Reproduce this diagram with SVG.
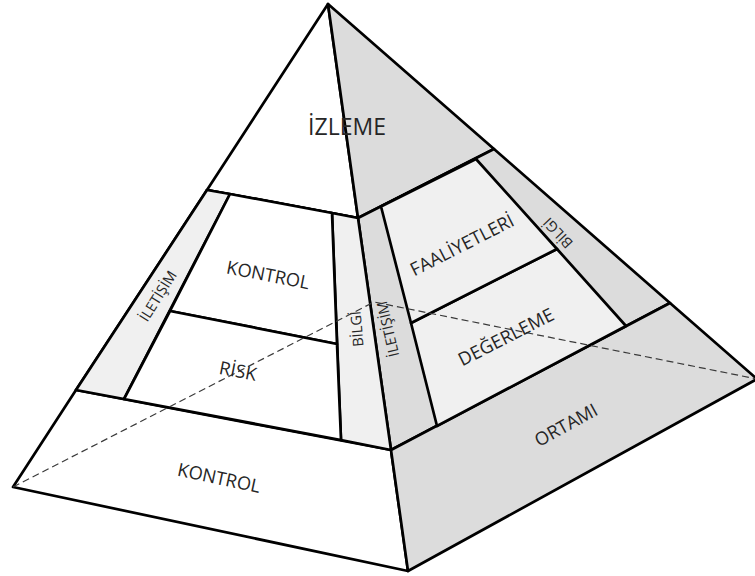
<svg xmlns="http://www.w3.org/2000/svg" width="755" height="576" viewBox="0 0 755 576">
<style>
.f{stroke:#000;stroke-width:2.7;stroke-linejoin:round}
.w{fill:#ffffff}
.l{fill:#f0f0f0}
.d{fill:#dcdcdc}
.dash{stroke:#3a3a3a;stroke-width:1.2;stroke-dasharray:7 4;fill:none}
text{font-family:"Open Sans",Lato,"Liberation Sans",sans-serif;fill:#262626;text-anchor:middle}
.big{font-size:18.3px}
.sm{font-size:14.5px}
</style>
<rect width="755" height="576" fill="#ffffff"/>
<g id="faces">
<polygon class="f w" points="328,4 207,190 358,218"/>
<polygon class="f d" points="328,4 358,218 494,149"/>
<polygon class="f w" points="207,190 358,218 391,450 76,390"/>
<polygon class="f d" points="358,218 494,149 670,303 391,450"/>
<polygon class="f w" points="76,390 391,450 408,571 13,487"/>
<polygon class="f d" points="391,450 670,303 757,379 408,571"/>
</g>
<g id="iletisim-left">
<polygon class="f l" points="207,190 230,194 124,399 76,390"/>
<text class="sm" transform="translate(158,296) rotate(-58)" dy="0.35em">İLETİŞİM</text>
</g>
<g id="bilgi-left">
<polygon class="f l" points="332,213 358,218 391,450 341,440"/>
<text class="sm" transform="translate(357,329) rotate(-95)" dy="0.35em">BİLGİ</text>
</g>
<g id="kontrol-mid">
<polygon class="f w" points="230,194 332,213 337,344 170,311"/>
<text class="big" transform="translate(268,275) rotate(11)" dy="0.35em">KONTROL</text>
</g>
<g id="risk">
<polygon class="f w" points="170,311 337,344 341,440 124,399"/>
</g>
<g id="degerleme-panel">
<polygon class="f l" points="411,323 557,249 626,326 437,426"/>
</g>
<g id="faaliyetleri">
<polygon class="f l" points="381,206.5 476,159 557,249 411,323"/>
<text class="big" transform="translate(462,245) rotate(-27)" dy="0.35em">FAALİYETLERİ</text>
</g>
<g id="iletisim-right">
<text class="sm" transform="translate(388,329) rotate(-103)" dy="0.35em">İLETİŞİM</text>
</g>
<g id="bilgi-right">
<text class="sm" transform="translate(558,233) rotate(-133)" dy="0.35em">BİLGİ</text>
</g>
<g id="connectors">
<polyline class="dash" points="13,487 374,302 757,379"/>
</g>
<g id="izleme">
<text style="font-size:23px" x="347" y="135">İZLEME</text>
</g>
<g id="risk-label">
<text class="big" transform="translate(238,371) rotate(11)" dy="0.35em">RİSK</text>
</g>
<g id="degerleme">
<text class="big" transform="translate(506,337) rotate(-27)" dy="0.35em">DEĞERLEME</text>
</g>
<g id="kontrol-base">
<text class="big" transform="translate(219,478) rotate(12)" dy="0.35em">KONTROL</text>
</g>
<g id="ortami">
<text class="big" transform="translate(566,425) rotate(-29)" dy="0.35em">ORTAMI</text>
</g>
</svg>
